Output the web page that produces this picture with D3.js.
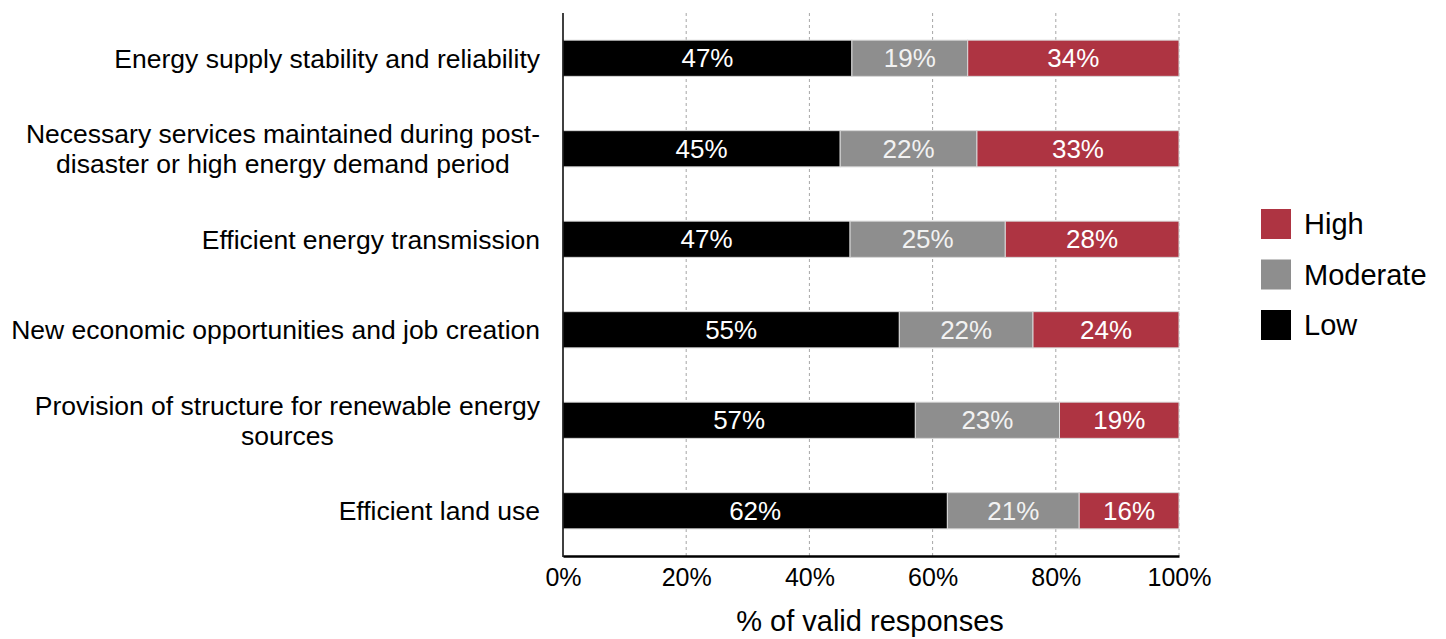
<!DOCTYPE html>
<html>
<head>
<meta charset="utf-8">
<script src="https://cdn.jsdelivr.net/npm/d3@7"></script>
<style>
  html, body { margin: 0; padding: 0; background: #fff; }
  svg { display: block; font-family: "Liberation Sans", Arial, sans-serif; }
</style>
</head>
<body>
<svg id="chart" width="1446" height="639"></svg>
<script>
// Survey items, each label split into its display lines
const categories = [
  ["Energy supply stability and reliability"],
  ["Necessary services maintained during post-", "disaster or high energy demand period"],
  ["Efficient energy transmission"],
  ["New economic opportunities and job creation"],
  ["Provision of structure for renewable energy", "sources"],
  ["Efficient land use"]
];

// Share of valid responses (%) per rating level
const lowValues      = [46.9, 45.0, 46.6, 54.6, 57.2, 62.4];
const moderateValues = [18.8, 22.2, 25.2, 21.7, 23.4, 21.4];
const highValues     = [34.3, 32.8, 28.2, 23.7, 19.4, 16.2];

const seriesNames = ["Low", "Moderate", "High"];
const seriesColors = ["#000000", "#8e8e8e", "#ae3442"];
const tickValues = [0, 20, 40, 60, 80, 100];

const rows = categories.map((c, i) => ({
  key: i,
  Low: lowValues[i],
  Moderate: moderateValues[i],
  High: highValues[i]
}));

const svg = d3.select("#chart");
const margin = { left: 563, right: 267, top: 13, bottom: 83 };
const W = 1446, H = 639;

const x = d3.scaleLinear().domain([0, 100]).range([margin.left, W - margin.right]);
const y = d3.scaleBand().domain(d3.range(categories.length))
  .range([margin.top, H - margin.bottom]).paddingInner(0.6).paddingOuter(0.3);
const color = d3.scaleOrdinal().domain(seriesNames).range(seriesColors);

// Dashed vertical gridlines
svg.append("g")
  .selectAll("line")
  .data(tickValues.filter(t => t > 0))
  .join("line")
  .attr("x1", d => x(d)).attr("x2", d => x(d))
  .attr("y1", margin.top).attr("y2", H - margin.bottom)
  .attr("stroke", "#a6a6a6")
  .attr("stroke-width", 1)
  .attr("stroke-dasharray", "3,3");

// Stacked bars
const stacked = d3.stack().keys(seriesNames)(rows);

const layers = svg.append("g")
  .selectAll("g")
  .data(stacked)
  .join("g")
  .attr("fill", d => color(d.key));

layers.selectAll("rect")
  .data(d => d)
  .join("rect")
  .attr("x", d => x(d[0]))
  .attr("width", d => x(d[1]) - x(d[0]))
  .attr("y", (d, i) => y(i))
  .attr("height", y.bandwidth())
  .attr("stroke", "#d9d9d9")
  .attr("stroke-width", 1);

// Value labels inside each segment
layers.selectAll("text")
  .data(d => d.map(v => ({ v, key: d.key })))
  .join("text")
  .attr("x", d => (x(d.v[0]) + x(d.v[1])) / 2)
  .attr("y", (d, i) => y(i) + y.bandwidth() / 2)
  .attr("dy", "0.35em")
  .attr("text-anchor", "middle")
  .attr("fill", d => d.key === "Moderate" ? "#f2f2f2" : "#ffffff")
  .attr("font-size", 26)
  .text(d => d3.format(".0f")(d.v[1] - d.v[0]) + "%");

// X axis
const xAxis = svg.append("g")
  .attr("transform", `translate(0,${H - margin.bottom})`)
  .call(d3.axisBottom(x).tickValues(tickValues).tickFormat(d => d + "%").tickSize(0).tickPadding(12));
xAxis.select(".domain").attr("stroke", "#000").attr("stroke-width", 2.5);
xAxis.selectAll("text").attr("font-size", 25).attr("fill", "#000")
  .attr("font-family", "Liberation Sans, Arial, sans-serif");

// Y axis line
svg.append("line")
  .attr("x1", margin.left).attr("x2", margin.left)
  .attr("y1", margin.top).attr("y2", H - margin.bottom + 1)
  .attr("stroke", "#000").attr("stroke-width", 1.5);

// Category labels: lines centred on each other, block right-aligned to the axis
const labelRight = margin.left - 23;
const lineGap = 30;
categories.forEach((lines, i) => {
  const g = svg.append("g");
  const cy = y(i) + y.bandwidth() / 2;
  const texts = lines.map((ln, j) => g.append("text")
    .attr("y", cy + (j - (lines.length - 1) / 2) * lineGap)
    .attr("dy", "0.35em")
    .attr("font-size", 26.5)
    .attr("fill", "#000")
    .text(ln));
  const maxW = d3.max(texts, t => t.node().getComputedTextLength());
  texts.forEach(t => t.attr("x", labelRight - maxW / 2).attr("text-anchor", "middle"));
});

// X axis title
svg.append("text")
  .attr("x", (x(0) + x(100)) / 2 - 1)
  .attr("y", 631)
  .attr("text-anchor", "middle")
  .attr("font-size", 29)
  .attr("fill", "#000")
  .text("% of valid responses");

// Legend (High on top)
const legend = svg.append("g").attr("transform", "translate(1261,209)");
const legendItems = legend.selectAll("g")
  .data(seriesNames.slice().reverse())
  .join("g")
  .attr("transform", (d, i) => `translate(0,${i * 50.5})`);
legendItems.append("rect")
  .attr("width", 30).attr("height", 30)
  .attr("fill", d => color(d));
legendItems.append("text")
  .attr("x", 43).attr("y", 15).attr("dy", "0.35em")
  .attr("font-size", 29).attr("fill", "#000")
  .text(d => d);
</script>
</body>
</html>
